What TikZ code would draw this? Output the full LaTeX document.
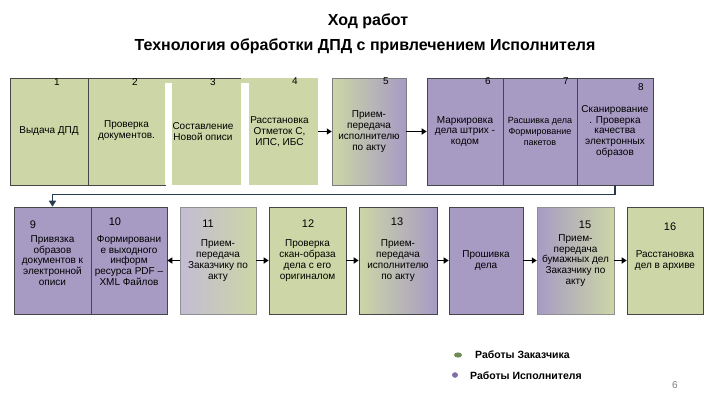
\documentclass[tikz,border=0pt]{standalone}
\usepackage{fontspec}
\setmainfont{Liberation Sans}
\usetikzlibrary{arrows.meta}
\definecolor{gr}{RGB}{204,214,166}
\definecolor{pu}{RGB}{167,155,196}
\definecolor{lpu}{RGB}{196,188,212}
\definecolor{bd}{RGB}{70,70,70}
\definecolor{loopc}{RGB}{40,58,80}
\definecolor{dgr}{RGB}{112,140,84}
\definecolor{dpu}{RGB}{128,110,170}
\tikzset{
  boxbase/.style={rectangle, inner sep=1pt, minimum height=107pt, align=center,
    font=\fontsize{10}{10.8}\selectfont},
  boxg/.style={boxbase, draw=bd, line width=0.6pt, fill=gr},
  boxp/.style={boxbase, draw=bd, line width=0.6pt, fill=pu},
  boxplain/.style={boxbase, fill=gr},
  num/.style={inner sep=0pt, font=\fontsize{10}{12}\selectfont},
  bnum/.style={inner sep=0pt, font=\fontsize{11}{13}\selectfont},
  arr/.style={line width=1.6pt, -{Triangle[length=5pt,width=6pt]}},
  loopline/.style={draw=loopc, line width=1.6pt, -{Triangle[length=6pt,width=7pt]}},
  legtext/.style={anchor=west, inner sep=0pt, font=\fontsize{10.5}{12}\selectfont\bfseries},
}
\begin{document}
\begin{tikzpicture}[x=1pt,y=-1pt]
\useasboundingbox (0,0) rectangle (720,405);
% title
\node[font=\fontsize{16}{19}\selectfont\bfseries] (t1) at (368,21) {Ход работ};
\node[font=\fontsize{16}{19}\selectfont\bfseries] (t2) at (365,46) {Технология обработки ДПД с привлечением Исполнителя};
% top row
\node[boxg, minimum width=78pt] (b1) at (49,131.5) {Выдача ДПД};
\node[boxg, minimum width=77pt] (b2) at (126.5,131.5) {\raisebox{4pt}{\shortstack{Проверка\\документов.}}};
\node[boxplain, minimum width=76pt] (b3) at (203,131.5) {Составление\\Новой описи};
\node[boxplain, minimum width=77pt] (b4) at (279.5,131.5) {Расстановка\\Отметок С,\\ИПС, ИБС};
\fill[white] (165,83) rectangle (172,185);
\fill[white] (241,83) rectangle (249,185);
\draw[bd, line width=0.6pt] (b3.north west) -- (b3.north east);
\node[boxbase, draw=bd!70, line width=0.5pt, left color=gr, right color=pu, minimum width=74pt] (b5) at (369,131.5) {Прием-\\передача\\исполнителю\\по акту};
\node[boxp, minimum width=76pt] (b6) at (465,131.5) {Маркировка\\дела штрих -\\кодом};
\node[boxp, minimum width=74pt, font=\fontsize{9}{10.8}\selectfont] (b7) at (540,131.5) {Расшивка дела\\Формирование\\пакетов};
\node[boxp, minimum width=76pt] (b8) at (615,131.5) {Сканирование\\. Проверка\\качества\\электронных\\образов};
% top numbers
\node[num] (n1) at (57,82) {1};
\node[num] (n2) at (135,82) {2};
\node[num] (n3) at (213,82) {3};
\node[num] (n4) at (295,81) {4};
\node[num] (n5) at (386,81) {5};
\node[num] (n6) at (488,81) {6};
\node[num] (n7) at (566,81) {7};
\node[num] (n8) at (641,87) {8};
% bottom row
\node[boxp, minimum width=77pt] (b9) at (52.5,260.5) {Привязка\\образов\\документов к\\электронной\\описи};
\node[boxp, minimum width=76pt] (b10) at (129,260.5) {Формировани\\е выходного\\информ\\ресурса PDF –\\XML Файлов};
\node[boxbase, draw=bd!60, line width=0.5pt, left color=lpu, right color=gr, minimum width=76pt] (b11) at (218,260.5) {Прием-\\передача\\Заказчику по\\акту};
\node[boxg, minimum width=77pt] (b12) at (307.5,260.5) {Проверка\\скан-образа\\дела с его\\оригиналом};
\node[boxbase, draw=bd, line width=0.6pt, left color=gr, right color=pu, minimum width=78pt] (b13) at (398,260.5) {Прием-\\передача\\исполнителю\\по акту};
\node[boxp, minimum width=74pt] (b14) at (486,260.5) {Прошивка\\дела};
\node[boxbase, draw=bd!60, line width=0.5pt, left color=pu, right color=gr, minimum width=77pt] (b15) at (575.5,260.5) {Прием-\\передача\\бумажных дел\\Заказчику по\\акту};
\node[boxg, minimum width=76pt] (b16) at (665,260.5) {Расстановка\\дел в архиве};
% bottom numbers
\node[bnum] (n9) at (33,225) {9};
\node[bnum] (n10) at (115,222) {10};
\node[bnum] (n11) at (208,224) {11};
\node[bnum] (n12) at (308,224) {12};
\node[bnum] (n13) at (397,222) {13};
\node[bnum] (n15) at (585,225) {15};
\node[bnum] (n16) at (670,227) {16};
% arrows
\draw[arr] (b4.east) -- (b5.west);
\draw[arr] (b5.east) -- (b6.west);
\draw[loopline] (b8.south) -- ++(0,9) -| (b9.north);
\draw[arr] (b11.west) -- (b10.east);
\draw[arr] (b11.east) -- (b12.west);
\draw[arr] (b12.east) -- (b13.west);
\draw[arr] (b13.east) -- (b14.west);
\draw[arr] (b14.east) -- (b15.west);
\draw[arr] (b15.east) -- (b16.west);
% legend
\fill[dgr] (458,355) ellipse (4pt and 2.6pt);
\node[legtext] (l1) at (475,355) {Работы Заказчика};
\fill[dpu] (455,375) ellipse (3pt and 2.8pt);
\node[legtext] (l2) at (470,376) {Работы Исполнителя};
\node[font=\fontsize{10}{12}\selectfont, text=gray] (pg) at (675,385) {6};
\end{tikzpicture}
\end{document}
